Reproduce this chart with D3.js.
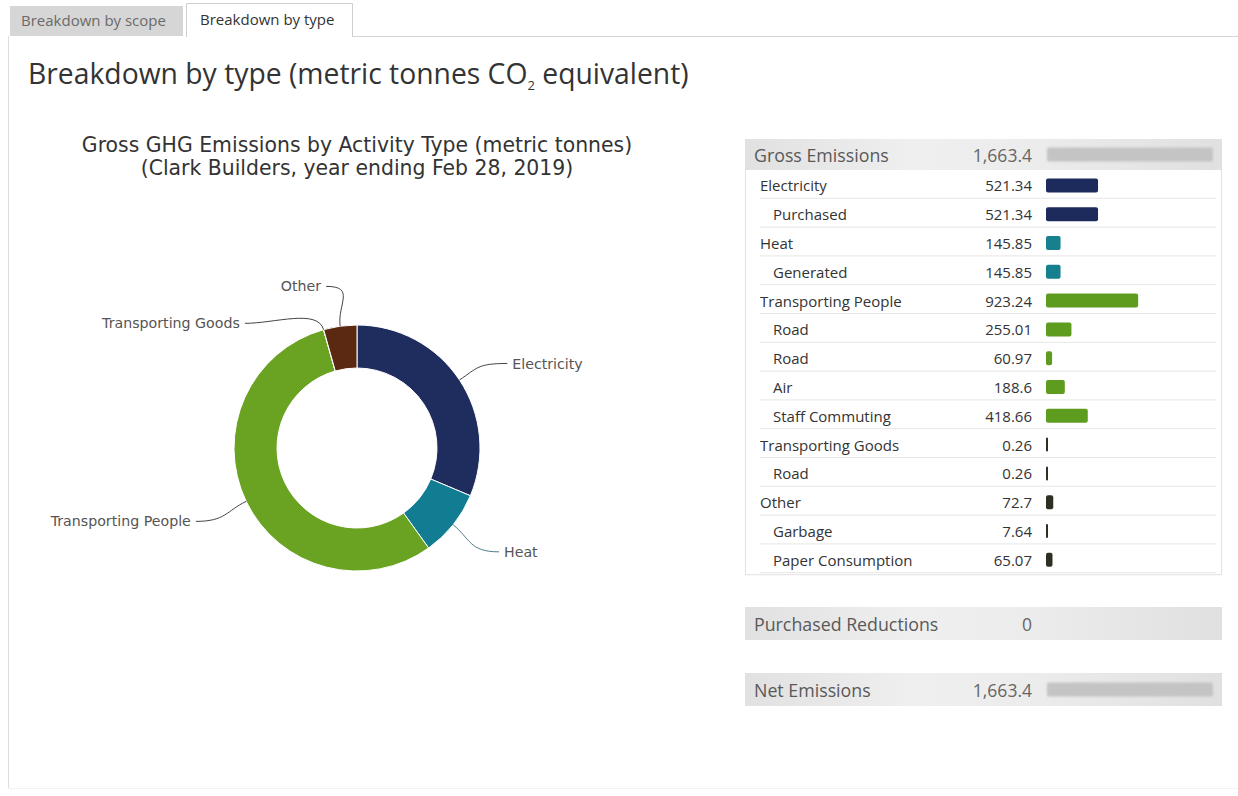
<!DOCTYPE html>
<html>
<head>
<meta charset="utf-8">
<script src="https://cdn.jsdelivr.net/npm/d3@7"></script>
<style>
  html, body { margin: 0; padding: 0; background: #fff; }
  svg { display: block; }
</style>
</head>
<body>
<svg id="chart" width="1238" height="796"></svg>
<script>
// ---------- DATA ----------
const tabLabels = ["Breakdown by scope", "Breakdown by type"];
const pageTitle = "Breakdown by type (metric tonnes CO";
const pageTitleSub = "2";
const pageTitleEnd = " equivalent)";
const chartTitleLines = ["Gross GHG Emissions by Activity Type (metric tonnes)", "(Clark Builders, year ending Feb 28, 2019)"];

const pieCategories = ["Electricity", "Heat", "Transporting People", "Transporting Goods", "Other"];
const pieValues = [521.34, 145.85, 923.24, 0.26, 72.7];
const pieColors = ["#1f2c5e", "#127c93", "#6aa222", "#3a3a1a", "#5b2912"];

const tableLabels = ["Electricity", "Purchased", "Heat", "Generated", "Transporting People", "Road", "Road", "Air", "Staff Commuting", "Transporting Goods", "Road", "Other", "Garbage", "Paper Consumption"];
const tableValues = [521.34, 521.34, 145.85, 145.85, 923.24, 255.01, 60.97, 188.6, 418.66, 0.26, 0.26, 72.7, 7.64, 65.07];
const tableLevels = [0, 1, 0, 1, 0, 1, 1, 1, 1, 0, 1, 0, 1, 1];
const tableGroups = ["Electricity", "Electricity", "Heat", "Heat", "Transporting People", "Transporting People", "Transporting People", "Transporting People", "Transporting People", "Other", "Other", "Other", "Other", "Other"];
const tableValueText = ["521.34", "521.34", "145.85", "145.85", "923.24", "255.01", "60.97", "188.6", "418.66", "0.26", "0.26", "72.7", "7.64", "65.07"];

const summaryLabels = ["Gross Emissions", "Purchased Reductions", "Net Emissions"];
const summaryValues = [1663.4, 0, 1663.4];
const summaryValueText = ["1,663.4", "0", "1,663.4"];

const barColors = { "Electricity": "#1c2a5c", "Heat": "#17808f", "Transporting People": "#5e9c1f", "Other": "#2e2e22" };

// ---------- DRAW ----------
const svg = d3.select("#chart");
const W = 1238, H = 796;

const defs = svg.append("defs");
const hg = defs.append("linearGradient").attr("id", "hdrGrad").attr("x1", "0").attr("x2", "1").attr("y1", "0").attr("y2", "0");
hg.append("stop").attr("offset", "0").attr("stop-color", "#e1e1e1");
hg.append("stop").attr("offset", "0.35").attr("stop-color", "#efefef");
hg.append("stop").attr("offset", "0.6").attr("stop-color", "#ececec");
hg.append("stop").attr("offset", "1").attr("stop-color", "#e0e0e0");
const blur = defs.append("filter").attr("id", "soft").attr("x", "-5%").attr("y", "-30%").attr("width", "110%").attr("height", "160%");
blur.append("feGaussianBlur").attr("stdDeviation", "1.2");

// panel frame
svg.append("line").attr("x1", 8.5).attr("x2", 8.5).attr("y1", 36).attr("y2", 788).attr("stroke", "#dedede");
svg.append("line").attr("x1", 8).attr("x2", 1238).attr("y1", 788.5).attr("y2", 788.5).attr("stroke", "#f2f2f2");
svg.append("line").attr("x1", 352).attr("x2", W).attr("y1", 36.5).attr("y2", 36.5).attr("stroke", "#d6d6d6");

// tabs
svg.append("rect").attr("x", 10).attr("y", 6).attr("width", 173).attr("height", 30).attr("fill", "#d6d6d6");
svg.append("text").attr("x", 21).attr("y", 26).attr("font-family", "Open Sans").attr("font-size", 15).attr("fill", "#6a6a6a").text(tabLabels[0]);
svg.append("path").attr("d", "M186.5,37 V3.5 H352.5 V37").attr("fill", "#fff").attr("stroke", "#cfcfcf");
svg.append("text").attr("x", 200).attr("y", 25).attr("font-family", "Open Sans").attr("font-size", 15).attr("fill", "#333").text(tabLabels[1]);

// page title
const pt = svg.append("text").attr("x", 28).attr("y", 84).attr("font-family", "Open Sans").attr("font-size", 28.3).attr("fill", "#333");
pt.append("tspan").text(pageTitle);
pt.append("tspan").attr("font-size", 13).attr("dy", 6).text(pageTitleSub);
pt.append("tspan").attr("dy", -6).text(pageTitleEnd);

// chart title
const cx = 357, cy = 448, rOuter = 123, rInner = 80;
svg.append("g").selectAll("text").data(chartTitleLines).join("text")
  .attr("x", cx).attr("y", (d, i) => 152 + i * 23)
  .attr("text-anchor", "middle").attr("font-family", "DejaVu Sans").attr("font-size", 20.4).attr("fill", "#333")
  .text(d => d);

// donut
const pieData = pieCategories.map((c, i) => ({ name: c, value: pieValues[i], color: pieColors[i] }));
const pie = d3.pie().value(d => d.value).sort(null).startAngle(0).endAngle(2 * Math.PI);
const arcs = pie(pieData);
const arc = d3.arc().innerRadius(rInner).outerRadius(rOuter);
const gPie = svg.append("g").attr("transform", `translate(${cx},${cy})`);
gPie.selectAll("path").data(arcs).join("path")
  .attr("d", arc).attr("fill", d => d.data.color).attr("stroke", "#fff").attr("stroke-width", 1);

// labels (highcharts-like placement)
const labelR = rOuter + 37;
const labelShift = 4;
const labels = arcs.map(a => {
  const mid = (a.startAngle + a.endAngle) / 2;
  return { name: a.data.name, value: a.data.value, mid, side: Math.sin(mid) >= 0 ? 1 : -1, y: -labelR * Math.cos(mid) + labelShift };
});
// resolve overlaps per side
const minGap = 37;
[1, -1].forEach(side => {
  const L = labels.filter(l => l.side === side).sort((a, b) => a.y - b.y);
  for (let i = 1; i < L.length; i++) {
    const deficit = minGap - (L[i].y - L[i - 1].y);
    if (deficit > 0) {
      const bigger = L[i - 1].value >= L[i].value;
      const up = bigger ? 0.22 : 0.78;
      L[i - 1].y -= deficit * up;
      L[i].y += deficit * (1 - up);
    }
  }
});
labels.forEach(l => {
  const dy = Math.abs(l.y - labelShift);
  if (dy < labelR * 0.9) {
    l.x = l.side * (Math.sqrt(labelR * labelR - dy * dy) + 22);
  } else {
    l.x = labelR * Math.sin(l.mid) + l.side * 14;
  }
  l.p0 = [rOuter * Math.sin(l.mid), -rOuter * Math.cos(l.mid)];
  l.c1 = [(rOuter + 22) * Math.sin(l.mid), -(rOuter + 22) * Math.cos(l.mid)];
  l.end = [l.x - l.side * 5, l.y];
  l.c2 = [l.end[0] - l.side * 30, l.y];
});
const gLab = svg.append("g").attr("transform", `translate(${cx},${cy})`);
gLab.selectAll("path").data(labels).join("path")
  .attr("d", l => `M${l.p0[0]},${l.p0[1]} C${l.c1[0]},${l.c1[1]} ${l.c2[0]},${l.c2[1]} ${l.end[0]},${l.end[1]}`)
  .attr("fill", "none").attr("stroke", d => d.name === "Heat" ? "#4f7d86" : "#444").attr("stroke-width", 1);
gLab.selectAll("text").data(labels).join("text")
  .attr("x", l => l.x).attr("y", l => l.y)
  .attr("text-anchor", l => l.side > 0 ? "start" : "end")
  .attr("dominant-baseline", "central")
  .attr("font-family", "DejaVu Sans").attr("font-size", 14.2).attr("fill", "#555")
  .text(l => l.name);

// ---------- TABLE ----------
const boxX = 745, boxW = 476, valRight = 1032, barX = 1046;
const barScale = d3.scaleLinear().domain([0, summaryValues[0]]).range([0, 166]);
const rowH = 28.8, hdrY = 139, hdrH = 31;
const rowsTop = hdrY + hdrH;

// box outline
svg.append("rect").attr("x", boxX + 0.5).attr("y", hdrY + 0.5).attr("width", boxW).attr("height", hdrH + rowH * tableLabels.length + 1)
  .attr("fill", "#fff").attr("stroke", "#e2e2e2");

function summaryBlock(i, y, h) {
  const g = svg.append("g");
  g.append("rect").attr("x", boxX).attr("y", y).attr("width", boxW + 1).attr("height", h).attr("fill", "url(#hdrGrad)");
  g.append("text").attr("x", 754).attr("y", y + h / 2).attr("dominant-baseline", "central")
    .attr("font-family", "Open Sans").attr("font-size", 17.8).attr("fill", "#595959").text(summaryLabels[i]);
  g.append("text").attr("x", valRight).attr("y", y + h / 2).attr("dominant-baseline", "central").attr("text-anchor", "end")
    .attr("font-family", "Open Sans").attr("font-size", 17.5).attr("fill", "#666").text(summaryValueText[i]);
  if (summaryValues[i] > 0) {
    g.append("rect").attr("x", barX + 1).attr("y", y + h / 2 - 7).attr("width", barScale(summaryValues[i])).attr("height", 14)
      .attr("rx", 2).attr("fill", "#c4c4c4").attr("filter", "url(#soft)");
  }
}
summaryBlock(0, hdrY, hdrH);

const gRows = svg.append("g");
const rows = gRows.selectAll("g").data(tableLabels.map((l, i) => ({
  label: l, value: tableValues[i], text: tableValueText[i], level: tableLevels[i], group: tableGroups[i], i
}))).join("g").attr("transform", d => `translate(0,${rowsTop + d.i * rowH})`);
rows.append("line").attr("x1", 760).attr("x2", 1216).attr("y1", rowH - 0.5).attr("y2", rowH - 0.5).attr("stroke", "#e6e6e6");
rows.append("text").attr("x", d => d.level ? 773 : 760).attr("y", rowH / 2 + 1).attr("dominant-baseline", "central")
  .attr("font-family", "Open Sans").attr("font-size", 15).attr("fill", "#333").text(d => d.label);
rows.append("text").attr("x", valRight).attr("y", rowH / 2 + 1).attr("dominant-baseline", "central").attr("text-anchor", "end")
  .attr("font-family", "Open Sans").attr("font-size", 15).attr("fill", "#333").text(d => d.text);
rows.append("rect").attr("x", barX)
  .attr("y", d => rowH / 2 - 7 + 1)
  .attr("width", d => Math.max(2, barScale(d.value)))
  .attr("height", 14).attr("rx", d => barScale(d.value) > 4 ? 2 : 1)
  .attr("fill", d => barColors[d.group]);

summaryBlock(1, 607, 33);
summaryBlock(2, 673, 33);
</script>
</body>
</html>
